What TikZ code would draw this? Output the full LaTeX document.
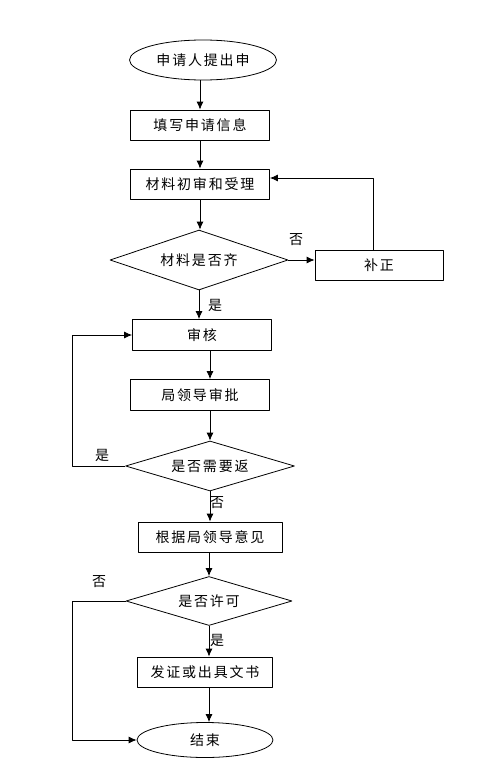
\documentclass[tikz,border=0pt]{standalone}
\usepackage{fontspec}
\newfontfamily\cjk[LetterSpace=13]{Noto Sans CJK SC}
\usetikzlibrary{shapes.geometric,arrows.meta}

\begin{document}
\begin{tikzpicture}[x=1pt, y=-1pt, line join=round, line width=.8pt,
	font=\cjk\fontsize{14}{14}\selectfont,
	>={Latex[length=8pt,width=7pt]},
	box/.style={draw, rectangle, minimum width=139pt, minimum height=30pt, inner sep=0pt},
	oval/.style={draw, ellipse, inner sep=0pt},
	choice/.style={draw, diamond, shape aspect=3.5, inner sep=0pt}]
	\useasboundingbox[fill=white] (0,0) rectangle (492,768);
	\path
	(203,60) node[oval, minimum width=147pt, minimum height=40pt] (start) {申请人提出申}
	(200,125) node[box] (fill) {填写申请信息}
	(200,184) node[box] (check) {材料初审和受理}
	(199,260) node[choice, minimum width=178pt, minimum height=60pt] (full) {材料是否齐}
	(379,265) node[box, minimum width=128pt] (fix) {补正}
	(202,335) node[box, minimum height=31pt] (review) {审核}
	(200,395) node[box, minimum height=31pt] (lead) {局领导审批}
	(210,466) node[choice, minimum width=169pt, minimum height=50pt] (back) {是否需要返}
	(210,537) node[box, minimum width=144pt] (opinion) {根据局领导意见}
	(209,601) node[choice, minimum width=166pt, minimum height=49pt] (allow) {是否许可}
	(205,672) node[box, minimum width=135pt] (issue) {发证或出具文书}
	(205,740) node[oval, minimum width=136pt, minimum height=35pt] (end) {结束}
	;
	\draw[->] (start.south -| fill) -- (fill.north);
	\draw[->] (fill) -- (check);
	\draw[->] (check.south) -- (check.south |- full.north);
	\draw[->] (full.east) -- (full.east -| fix.west);
	\draw[->] ([xshift=-6pt]fix.north) |- ([yshift=6pt]check.east);
	\draw[->] (full.south) -- (full.south |- review.north);
	\draw[->] (review.south -| back.north) -- (lead.north -| back.north);
	\draw[->] (lead.south -| back.north) -- (back.north);
	\draw[->] (back.west) -- ++(-53,0) |- (review.west);
	\draw[->] (back.south) -- (opinion.north -| back.south);
	\draw[->] (opinion.south -| allow.north) -- (allow.north);
	\draw[->] (allow.south) -- (allow.south |- issue.north);
	\draw[->] (issue.south -| allow.south) -- (end.north -| allow.south);
	\draw[->] (allow.west) -- ++(-53,0) |- (end.west);
	\foreach \n/\p/\t in {no1/{296,240}/否, yes1/{215,305}/是, yes2/{102,455}/是,
		no2/{217,503}/否, no3/{99,582}/否, yes3/{217,640}/是}
	\node (\n) at (\p) {\t};
\end{tikzpicture}
\end{document}
